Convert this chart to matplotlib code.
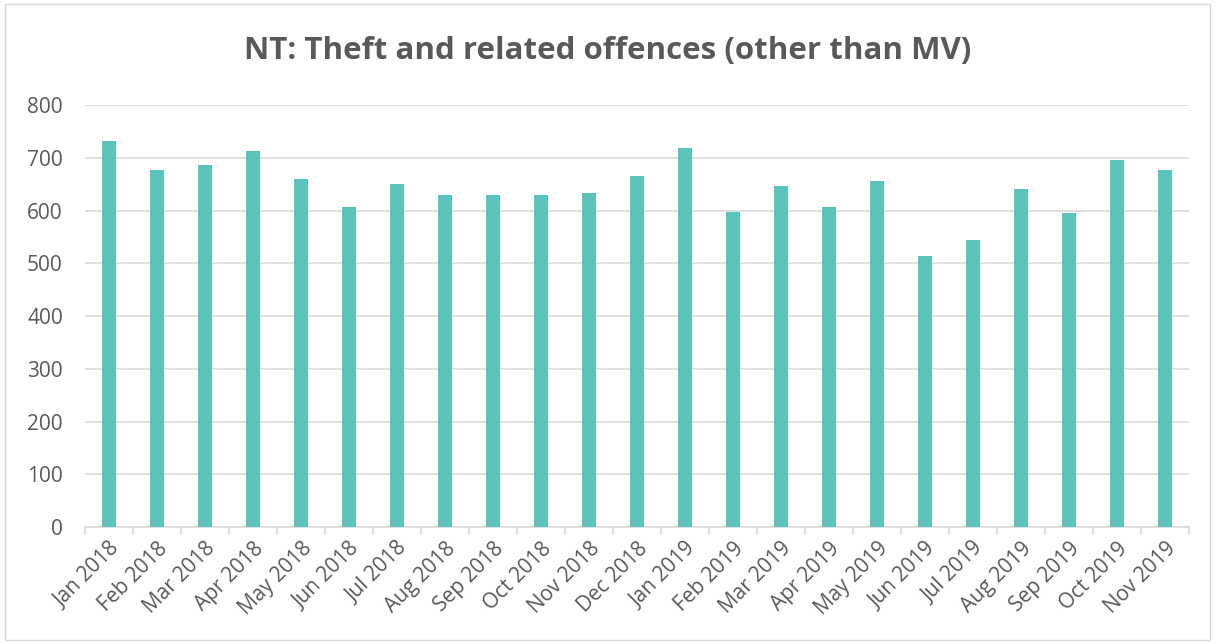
import numpy as np
import matplotlib
matplotlib.use("Agg")
import matplotlib.pyplot as plt

months = ["Jan 2018", "Feb 2018", "Mar 2018", "Apr 2018", "May 2018", "Jun 2018",
          "Jul 2018", "Aug 2018", "Sep 2018", "Oct 2018", "Nov 2018", "Dec 2018",
          "Jan 2019", "Feb 2019", "Mar 2019", "Apr 2019", "May 2019", "Jun 2019",
          "Jul 2019", "Aug 2019", "Sep 2019", "Oct 2019", "Nov 2019"]
offences = [732, 676, 686, 713, 659, 607, 650, 630, 630, 630, 633, 666,
            718, 597, 647, 607, 656, 513, 545, 640, 595, 695, 676]
yticks = [0, 100, 200, 300, 400, 500, 600, 700, 800]

plt.rcParams['font.family'] = ['Open Sans', 'DejaVu Sans']
grey = "#595959"

fig = plt.figure(figsize=(12.15, 6.43), dpi=100)
ax = fig.add_axes([0.07, 0.1804, 0.9086, 0.6563])

x = np.arange(len(months))
ax.bar(x, offences, width=0.31, color="#5BC4BA", zorder=3)

ax.set_xlim(-0.5, len(months) - 0.5)
ax.set_ylim(0, 800)
ax.set_yticks(yticks)
ax.set_yticklabels([str(v) for v in yticks], fontsize=15, color=grey)
ax.yaxis.grid(True, color="#D9D9D9", linewidth=1.2, zorder=0)
ax.tick_params(axis='y', length=0, pad=16)

ax.set_xticks(x)
ax.set_xticklabels(months, rotation=45, ha='right', rotation_mode='anchor',
                   fontsize=15, color=grey)
ax.tick_params(axis='x', length=0, pad=8)
ax.set_xticks(np.arange(len(months) + 1) - 0.5, minor=True)
ax.tick_params(axis='x', which='minor', length=6, color="#D9D9D9", width=1.2)

for s in ['top', 'right', 'left']:
    ax.spines[s].set_visible(False)
ax.spines['bottom'].set_color("#D9D9D9")
ax.spines['bottom'].set_linewidth(1.2)

fig.text(0.5, 0.921, "NT: Theft and related offences (other than MV)",
         ha='center', va='center', fontsize=22.5, fontweight='bold', color=grey)

border = plt.Rectangle((0.004, 0.004), 0.992, 0.99, transform=fig.transFigure,
                       fill=False, edgecolor="#D9D9D9", linewidth=1)
fig.patches.append(border)

fig.savefig("out.png", dpi=100)
